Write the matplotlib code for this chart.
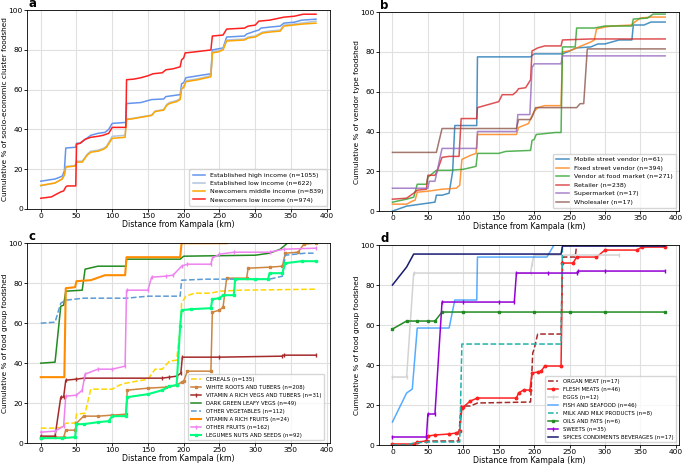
import matplotlib.pyplot as plt

# ---- panel a: socio-economic clusters ----
a_labels = ["Established high income (n=1055)", "Established low income (n=622)",
            "Newcomers middle income (n=839)", "Newcomers low income (n=974)"]
a_high_x = [0, 20, 30, 33, 35, 49, 50, 55, 70, 80, 90, 95, 100, 119, 120, 140, 155, 172, 175, 185, 195, 197, 200, 203, 220, 238, 240, 255, 260, 285, 288, 300, 305, 308, 320, 335, 340, 355, 365, 385]
a_high_y = [13.9, 15, 16.4, 19, 30.6, 31, 33, 33, 37, 38, 38.5, 40, 43, 43.5, 53, 53.5, 55, 55.3, 56.5, 57, 57.5, 63, 63.5, 66, 67, 68, 80, 81, 86.5, 87, 88, 89.5, 90, 91, 91.5, 92, 93.5, 94, 95, 95.5]
a_low_x = [0, 20, 30, 33, 35, 48, 50, 58, 65, 70, 80, 88, 92, 100, 118, 120, 128, 155, 160, 172, 176, 180, 190, 195, 197, 200, 203, 220, 238, 240, 248, 255, 260, 285, 290, 300, 305, 310, 320, 335, 340, 365, 385]
a_low_y = [11.5, 13, 15, 17, 21.3, 21.8, 24, 24, 27.5, 29, 29.5, 30.5, 31.5, 36.5, 37, 45.2, 45.5, 47.2, 49.2, 50, 52.5, 53.5, 54.5, 55.5, 61, 61.5, 64.5, 65.5, 67, 79, 79.5, 80.5, 85, 85.5, 86.5, 87, 88, 89, 89.5, 90, 92.5, 93.5, 94.5]
a_mid_x = [0, 20, 30, 33, 35, 48, 50, 58, 65, 70, 80, 88, 92, 100, 118, 119, 120, 128, 155, 160, 172, 176, 180, 190, 195, 197, 200, 203, 220, 238, 240, 248, 255, 260, 285, 290, 300, 305, 310, 320, 335, 340, 365, 385]
a_mid_y = [11.8, 13, 15, 17, 21, 21.5, 23.5, 23.5, 27, 28.5, 29, 30, 31, 35.5, 36, 41, 45, 45.3, 47, 49, 49.7, 52, 53, 54, 55, 60.5, 61, 64, 65, 66.5, 78.5, 79, 80, 84.5, 85, 86, 86.5, 87.5, 88.5, 89, 89.5, 92, 93, 93.5]
a_new_x = [0, 15, 20, 28, 32, 35, 37, 49, 50, 55, 62, 70, 80, 87, 95, 100, 119, 120, 130, 140, 150, 157, 170, 175, 185, 195, 197, 200, 202, 215, 238, 240, 255, 260, 285, 290, 300, 305, 320, 340, 355, 367, 385]
a_new_y = [5.3, 6, 7, 8.5, 9, 11, 11.5, 11.5, 32.5, 33, 35, 36, 36.5, 37, 38, 41, 41, 65, 65.3, 66, 67, 68, 68.5, 70, 70.5, 71.5, 75, 76, 78.5, 79, 80, 87, 87.5, 90.5, 91, 92, 92.5, 94.5, 95, 96.5, 97, 98, 98]

# ---- panel b: vendor types ----
b_labels = ["Mobile street vendor (n=61)", "Fixed street vendor (n=394)",
            "Vendor at food market (n=271)", "Retailer (n=238)",
            "Supermarket (n=17)", "Wholesaler (n=17)"]
b_mobile_x = [0, 20, 30, 40, 50, 60, 62, 70, 80, 85, 88, 119, 120, 195, 200, 240, 250, 260, 280, 290, 300, 310, 320, 338, 340, 355, 365, 385]
b_mobile_y = [0, 2.5, 3, 3.5, 4, 4.5, 8, 8, 9, 20, 43, 43, 77.5, 77.5, 79, 79, 80.5, 82, 82.5, 84, 84, 85, 86, 86, 93.5, 93.5, 95, 95]
b_fixed_x = [0, 20, 28, 32, 35, 50, 70, 90, 95, 98, 110, 118, 120, 175, 178, 185, 192, 197, 200, 205, 215, 238, 240, 250, 260, 280, 285, 288, 300, 310, 338, 342, 350, 365, 385]
b_fixed_y = [3.5, 3.5, 5, 5.5, 9.5, 10, 11, 11.5, 13, 26, 28, 29, 38.5, 38.5, 42, 43, 44, 48, 50, 52, 53, 53, 80, 80.5, 82, 85, 86, 91.5, 92.5, 93, 93.5, 95, 97, 97.5, 97.5]
b_market_x = [0, 20, 30, 35, 48, 50, 62, 80, 100, 118, 120, 150, 160, 195, 197, 200, 203, 230, 238, 240, 258, 260, 285, 300, 338, 340, 360, 368, 385]
b_market_y = [4.5, 6, 7, 13.5, 13.5, 17, 20.5, 20.5, 21, 22.5, 29, 29, 30, 30.5, 35.5, 36, 38.5, 39.5, 39.5, 82.5, 82.5, 92, 92, 93, 93, 96.5, 97, 99, 99]
b_retail_x = [0, 20, 30, 35, 48, 50, 60, 63, 70, 80, 94, 97, 119, 120, 140, 150, 155, 170, 175, 178, 188, 195, 197, 200, 205, 215, 238, 240, 280, 385]
b_retail_y = [6, 6.5, 9, 10.5, 11, 18, 18, 20, 27, 27.5, 27.5, 46.5, 46.5, 52, 54, 55, 58.5, 58.5, 60, 61.5, 62, 66, 80.5, 81, 82, 83, 83, 86, 86.5, 86.5]
b_super_x = [0, 50, 52, 60, 70, 119, 120, 175, 177, 194, 197, 200, 238, 240, 385]
b_super_y = [11.5, 11.5, 15, 15, 31.5, 31.5, 40, 40, 48.5, 48.5, 72, 74, 74, 78, 78]
b_whole_x = [0, 62, 70, 175, 178, 195, 198, 202, 260, 265, 270, 275, 385]
b_whole_y = [29.5, 29.5, 41.5, 41.5, 46, 46, 48, 52, 52, 54, 54, 81.5, 81.5]

# ---- panel c: plant-based food groups ----
c_labels = ["CEREALS (n=135)", "WHITE ROOTS AND TUBERS (n=208)",
            "VITAMIN A RICH VEGS AND TUBERS (n=31)", "DARK GREEN LEAFY VEGS (n=49)",
            "OTHER VEGETABLES (n=112)", "VITAMIN A RICH FRUITS (n=24)",
            "OTHER FRUITS (n=162)", "LEGUMES NUTS AND SEEDS (n=92)"]
c_cereal_x = [0, 20, 30, 35, 48, 50, 62, 70, 100, 110, 119, 150, 160, 170, 180, 190, 195, 197, 203, 215, 238, 250, 280, 385]
c_cereal_y = [7.5, 7.5, 8, 10, 10, 14.5, 15, 27, 27, 29, 30, 32, 37, 37, 41, 41.5, 57, 70, 73.5, 75, 75, 76, 76.5, 77]
c_roots_x = [0, 20, 32, 35, 48, 50, 60, 80, 100, 119, 121, 150, 175, 190, 197, 200, 205, 238, 240, 250, 255, 260, 288, 290, 320, 338, 342, 360, 368, 385]
c_roots_y = [2.5, 3, 3, 6.5, 6.5, 10, 13.5, 13.5, 14, 14.5, 26.5, 27.5, 28, 29, 30.5, 31, 36, 36, 65.5, 66.5, 68, 82.5, 82.5, 87.5, 88, 88.5, 95, 95.5, 99.5, 100]
c_vitveg_x = [0, 20, 28, 32, 35, 50, 60, 170, 180, 190, 196, 198, 250, 338, 340, 385]
c_vitveg_y = [3.5, 3.5, 23, 23, 31.5, 32, 32.5, 32.5, 33, 33.5, 35, 43, 43, 43.5, 44, 44]
c_leafy_x = [0, 20, 28, 32, 35, 58, 62, 80, 119, 120, 195, 200, 300, 320, 335, 340, 345, 385]
c_leafy_y = [40, 40.5, 68.5, 69, 76, 76.5, 87, 88.5, 88.5, 92, 92, 93.5, 94, 95, 97, 98.5, 100, 100]
c_otherveg_x = [0, 20, 28, 35, 60, 120, 150, 195, 197, 230, 320, 338, 342, 370, 385]
c_otherveg_y = [60, 60.5, 70, 71.5, 72.5, 72.5, 73.5, 73.5, 81.5, 82, 82, 83.5, 94, 95, 95]
c_vitfruit_x = [0, 33, 35, 48, 50, 70, 90, 118, 120, 195, 197, 260]
c_vitfruit_y = [33, 33, 77.5, 78, 81, 81.5, 84, 84, 93, 93, 100, 100]
c_fruit_x = [0, 20, 32, 35, 50, 58, 62, 80, 100, 118, 120, 150, 155, 175, 185, 197, 205, 238, 240, 250, 270, 320, 340, 385]
c_fruit_y = [5.5, 6, 8.5, 23.5, 24, 26.5, 34.5, 37, 37, 38.5, 76.5, 76.5, 83, 83.5, 84, 88.5, 89.5, 89.5, 92.5, 94.5, 95.5, 95.5, 97, 97.5]
c_legume_x = [0, 30, 48, 50, 60, 80, 95, 100, 119, 121, 150, 170, 180, 190, 195, 197, 210, 238, 240, 250, 255, 270, 272, 300, 318, 320, 338, 342, 365, 385]
c_legume_y = [2.5, 2.5, 3, 9.5, 9.5, 10.5, 11, 13.5, 13.5, 23, 24.5, 26.5, 28.5, 29, 58.5, 66.5, 67, 67.5, 72, 72.5, 74, 74, 82, 82, 82, 85, 85, 90, 91, 91]

# ---- panel d: animal-source and other food groups ----
d_labels = ["ORGAN MEAT (n=17)", "FLESH MEATS (n=46)", "EGGS (n=12)",
            "FISH AND SEAFOOD (n=46)", "MILK AND MILK PRODUCTS (n=8)",
            "OILS AND FATS (n=6)", "SWEETS (n=35)", "SPICES CONDIMENTS BEVERAGES (n=17)"]
d_organ_x = [0, 30, 40, 50, 93, 97, 110, 120, 195, 198, 200, 205, 238, 240, 258, 260]
d_organ_y = [0, 0, 1.5, 2, 2, 19.5, 19.5, 21, 21.5, 46, 48, 55.5, 55.5, 94, 94, 100]
d_flesh_x = [0, 30, 35, 48, 50, 60, 80, 90, 95, 98, 100, 110, 120, 175, 178, 185, 194, 197, 205, 210, 215, 238, 240, 255, 260, 288, 300, 345, 352, 385]
d_flesh_y = [0.5, 0.5, 1.5, 2, 4.5, 5, 5.5, 6, 7, 18.5, 19, 22, 23.5, 23.5, 26, 27.5, 27.5, 36, 36.5, 37, 39.5, 39.5, 91, 91, 94, 94, 97.5, 97.5, 99, 99]
d_eggs_x = [0, 20, 30, 195, 197, 200, 320]
d_eggs_y = [34, 34, 86, 86, 90.5, 95, 95]
d_fish_x = [0, 20, 28, 35, 80, 88, 119, 120, 218, 228, 240]
d_fish_y = [11.5, 26, 28, 58.5, 58.5, 72.5, 72.5, 94, 94, 100, 100]
d_milk_x = [0, 20, 30, 50, 95, 98, 238, 240]
d_milk_y = [0, 0, 1, 1.5, 1.5, 50.5, 50.5, 100]
d_oils_x = [0, 20, 35, 50, 60, 70, 100, 150, 200, 250, 300, 385]
d_oils_y = [58, 62, 62, 62, 62, 66.5, 66.5, 66.5, 66.5, 66.5, 66.5, 66.5]
d_sweets_x = [0, 48, 50, 60, 70, 100, 150, 172, 175, 220, 260, 262, 300, 385]
d_sweets_y = [4, 4, 15.5, 15.5, 71.5, 71.5, 71.5, 71.5, 86, 86, 86, 87, 87, 87]
d_spices_x = [0, 20, 30, 238, 240, 385]
d_spices_y = [80, 89, 95.5, 95.5, 99.5, 99.5]

fig = plt.figure(figsize=(6.85, 4.65), dpi=100)
ax_a = fig.add_axes([0.0394, 0.551, 0.442, 0.427])
ax_b = fig.add_axes([0.553, 0.546, 0.438, 0.428])
ax_c = fig.add_axes([0.0394, 0.047, 0.442, 0.430])
ax_d = fig.add_axes([0.553, 0.043, 0.438, 0.430])

lw = 1.1
ax_a.plot(a_high_x, a_high_y, color="#6495ED", lw=lw, label=a_labels[0])
ax_a.plot(a_low_x, a_low_y, color="#B0C4DE", lw=lw, label=a_labels[1])
ax_a.plot(a_mid_x, a_mid_y, color="#FFA500", lw=lw, label=a_labels[2])
ax_a.plot(a_new_x, a_new_y, color="#FF2020", lw=lw, label=a_labels[3])
ax_a.set_ylabel("Cumulative % of socio-economic cluster foodshed")

b_series = [(b_mobile_x, b_mobile_y), (b_fixed_x, b_fixed_y), (b_market_x, b_market_y),
            (b_retail_x, b_retail_y), (b_super_x, b_super_y), (b_whole_x, b_whole_y)]
b_colors = ["tab:blue", "tab:orange", "tab:green", "tab:red", "tab:purple", "tab:brown"]
for (xs, ys), col, lab in zip(b_series, b_colors, b_labels):
    ax_b.plot(xs, ys, color=col, lw=lw, alpha=0.8, label=lab)
ax_b.set_ylabel("Cumulative % of vendor type foodshed")

ax_c.plot(c_cereal_x, c_cereal_y, color="#FFD700", ls="--", lw=lw, label=c_labels[0])
ax_c.plot(c_roots_x, c_roots_y, color="#CD853F", lw=lw, marker="s", ms=1.8, label=c_labels[1])
ax_c.plot(c_vitveg_x, c_vitveg_y, color="#A52A2A", lw=lw, marker="|", ms=2.5, label=c_labels[2])
ax_c.plot(c_leafy_x, c_leafy_y, color="#228B22", lw=lw, label=c_labels[3])
ax_c.plot(c_otherveg_x, c_otherveg_y, color="#5B9BD5", ls="--", lw=lw, label=c_labels[4])
ax_c.plot(c_vitfruit_x, c_vitfruit_y, color="#FF8C00", lw=1.5, label=c_labels[5])
ax_c.plot(c_fruit_x, c_fruit_y, color="#EE82EE", lw=lw, marker="|", ms=2.5, label=c_labels[6])
ax_c.plot(c_legume_x, c_legume_y, color="#00FF7F", lw=1.5, marker="s", ms=1.8, label=c_labels[7])
ax_c.set_ylabel("Cumulative % of food group foodshed")

ax_d.plot(d_organ_x, d_organ_y, color="#A52A2A", ls="--", lw=lw, label=d_labels[0])
ax_d.plot(d_flesh_x, d_flesh_y, color="#FF2020", lw=lw, marker="o", ms=1.8, label=d_labels[1])
ax_d.plot(d_eggs_x, d_eggs_y, color="#D3D3D3", lw=lw, marker="|", ms=2.5, label=d_labels[2])
ax_d.plot(d_fish_x, d_fish_y, color="#1E90FF", lw=lw, alpha=0.75, label=d_labels[3])
ax_d.plot(d_milk_x, d_milk_y, color="#20B2AA", ls="--", lw=lw, label=d_labels[4])
ax_d.plot(d_oils_x, d_oils_y, color="#228B22", lw=lw, marker="s", ms=1.8, label=d_labels[5])
ax_d.plot(d_sweets_x, d_sweets_y, color="#9400D3", lw=lw, marker="|", ms=2.5, label=d_labels[6])
ax_d.plot(d_spices_x, d_spices_y, color="#191970", lw=lw, label=d_labels[7])
ax_d.set_ylabel("Cumulative % of food group foodshed")

for ax in (ax_a, ax_b, ax_c, ax_d):
    ax.set_ylim(0, 100)
    ax.set_xlim(-19.25, 404.25)
    ax.set_xticks(range(0, 401, 50))
    ax.set_yticks(range(0, 101, 20))
    ax.grid(True, color="#e0e0e0", lw=0.8)
    ax.set_axisbelow(True)
    ax.tick_params(labelsize=5.4, length=2, pad=1, width=0.6)
    ax.set_xlabel("Distance from Kampala (km)", fontsize=5.6, labelpad=0.5)
    ax.yaxis.label.set_fontsize(5.3)
    ax.yaxis.labelpad = 0.5
    for sp in ax.spines.values():
        sp.set_linewidth(0.6)

ax_a.legend(loc="lower right", fontsize=4.5, handlelength=2, borderpad=0.5, labelspacing=0.45)
ax_b.legend(loc="lower right", fontsize=4.5, handlelength=2, borderpad=0.5, labelspacing=0.5)
ax_c.legend(loc="lower right", fontsize=3.9, handlelength=2, borderpad=0.5, labelspacing=0.55,
            bbox_to_anchor=(0.99, 0.0))
ax_d.legend(loc="lower right", fontsize=3.9, handlelength=2, borderpad=0.5, labelspacing=0.55)

for ax, letter in zip((ax_a, ax_b, ax_c, ax_d), "abcd"):
    ax.text(0.005, 1.0, letter, transform=ax.transAxes, fontsize=8.5, fontweight="bold",
            va="bottom", ha="left")

fig.savefig("out.png", dpi=100)
